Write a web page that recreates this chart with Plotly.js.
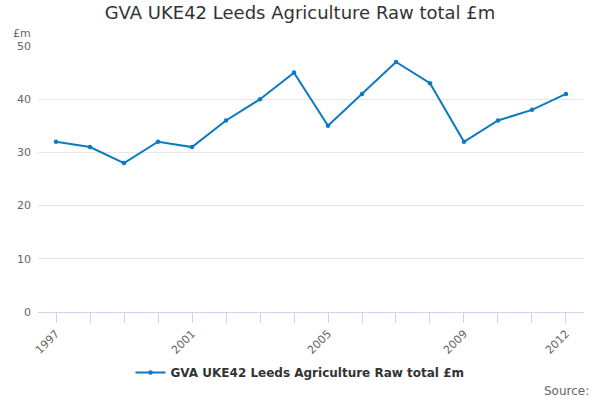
<!DOCTYPE html>
<html>
<head>
<meta charset="utf-8">
<script src="https://cdn.plot.ly/plotly-3.0.1.min.js"></script>
<style>html,body{margin:0;padding:0;background:#fff}#chart{width:600px;height:400px}</style>
</head>
<body>
<div id="chart"></div>
<script>
const years = [1997, 1998, 1999, 2000, 2001, 2002, 2003, 2004, 2005, 2006, 2007, 2008, 2009, 2010, 2011, 2012];
const gva = [32, 31, 28, 32, 31, 36, 40, 45, 35, 41, 47, 43, 32, 36, 38, 41];
const labelledYears = [1997, 2001, 2005, 2009, 2012];
const yTicks = [0, 10, 20, 30, 40, 50];

const font = 'DejaVu Sans, sans-serif';

const trace = {
    x: years,
    y: gva,
    type: 'scatter',
    mode: 'lines+markers',
    name: 'GVA UKE42 Leeds Agriculture Raw total £m',
    line: { color: '#0a7bc1', width: 2 },
    marker: { color: '#0a7bc1', size: 4.5 }
};

// plot area runs from y=46 to y=312 (266px high)
const layout = {
    width: 600,
    height: 400,
    margin: { l: 38, r: 16, t: 46, b: 88 },
    paper_bgcolor: '#fff',
    plot_bgcolor: '#fff',
    font: { family: font, color: '#666', size: 11 },
    title: {
        text: 'GVA UKE42 Leeds Agriculture Raw total £m',
        font: { family: font, size: 18, color: '#333' },
        x: 0.5, xanchor: 'center', y: 0.985, yanchor: 'top'
    },
    xaxis: {
        range: [1996.47, 2012.53],
        tickvals: years,
        ticktext: years.map(y => labelledYears.includes(y) ? String(y) : ''),
        tickangle: -45,
        ticks: 'outside',
        ticklen: 10,
        tickcolor: '#ccd6eb',
        showline: true,
        linecolor: '#ccd6eb',
        showgrid: false,
        zeroline: false,
        automargin: false,
        fixedrange: true
    },
    yaxis: {
        range: [0, 50],
        tickvals: yTicks,
        showgrid: true,
        gridcolor: '#e6e6e6',
        zeroline: false,
        ticks: '',
        ticklabelstandoff: 6,
        automargin: false,
        fixedrange: true
    },
    showlegend: true,
    legend: {
        orientation: 'h',
        xref: 'container', yref: 'container',
        x: 0.5, xanchor: 'center',
        y: 0.105, yanchor: 'top',
        font: { family: font, size: 12, color: '#333', weight: 'bold' }
    },
    annotations: [
        {
            text: '£m', xref: 'paper', yref: 'paper', x: -0.05, y: 1.015,
            xanchor: 'left', yanchor: 'bottom', showarrow: false,
            font: { family: font, size: 11, color: '#666' }
        },
        {
            text: 'Source:', xref: 'paper', yref: 'paper', x: 1.012, y: -0.265,
            xanchor: 'right', yanchor: 'top', showarrow: false,
            font: { family: font, size: 12, color: '#666' }
        }
    ]
};

Plotly.newPlot('chart', [trace], layout, { displayModeBar: false, staticPlot: true });
</script>
</body>
</html>
